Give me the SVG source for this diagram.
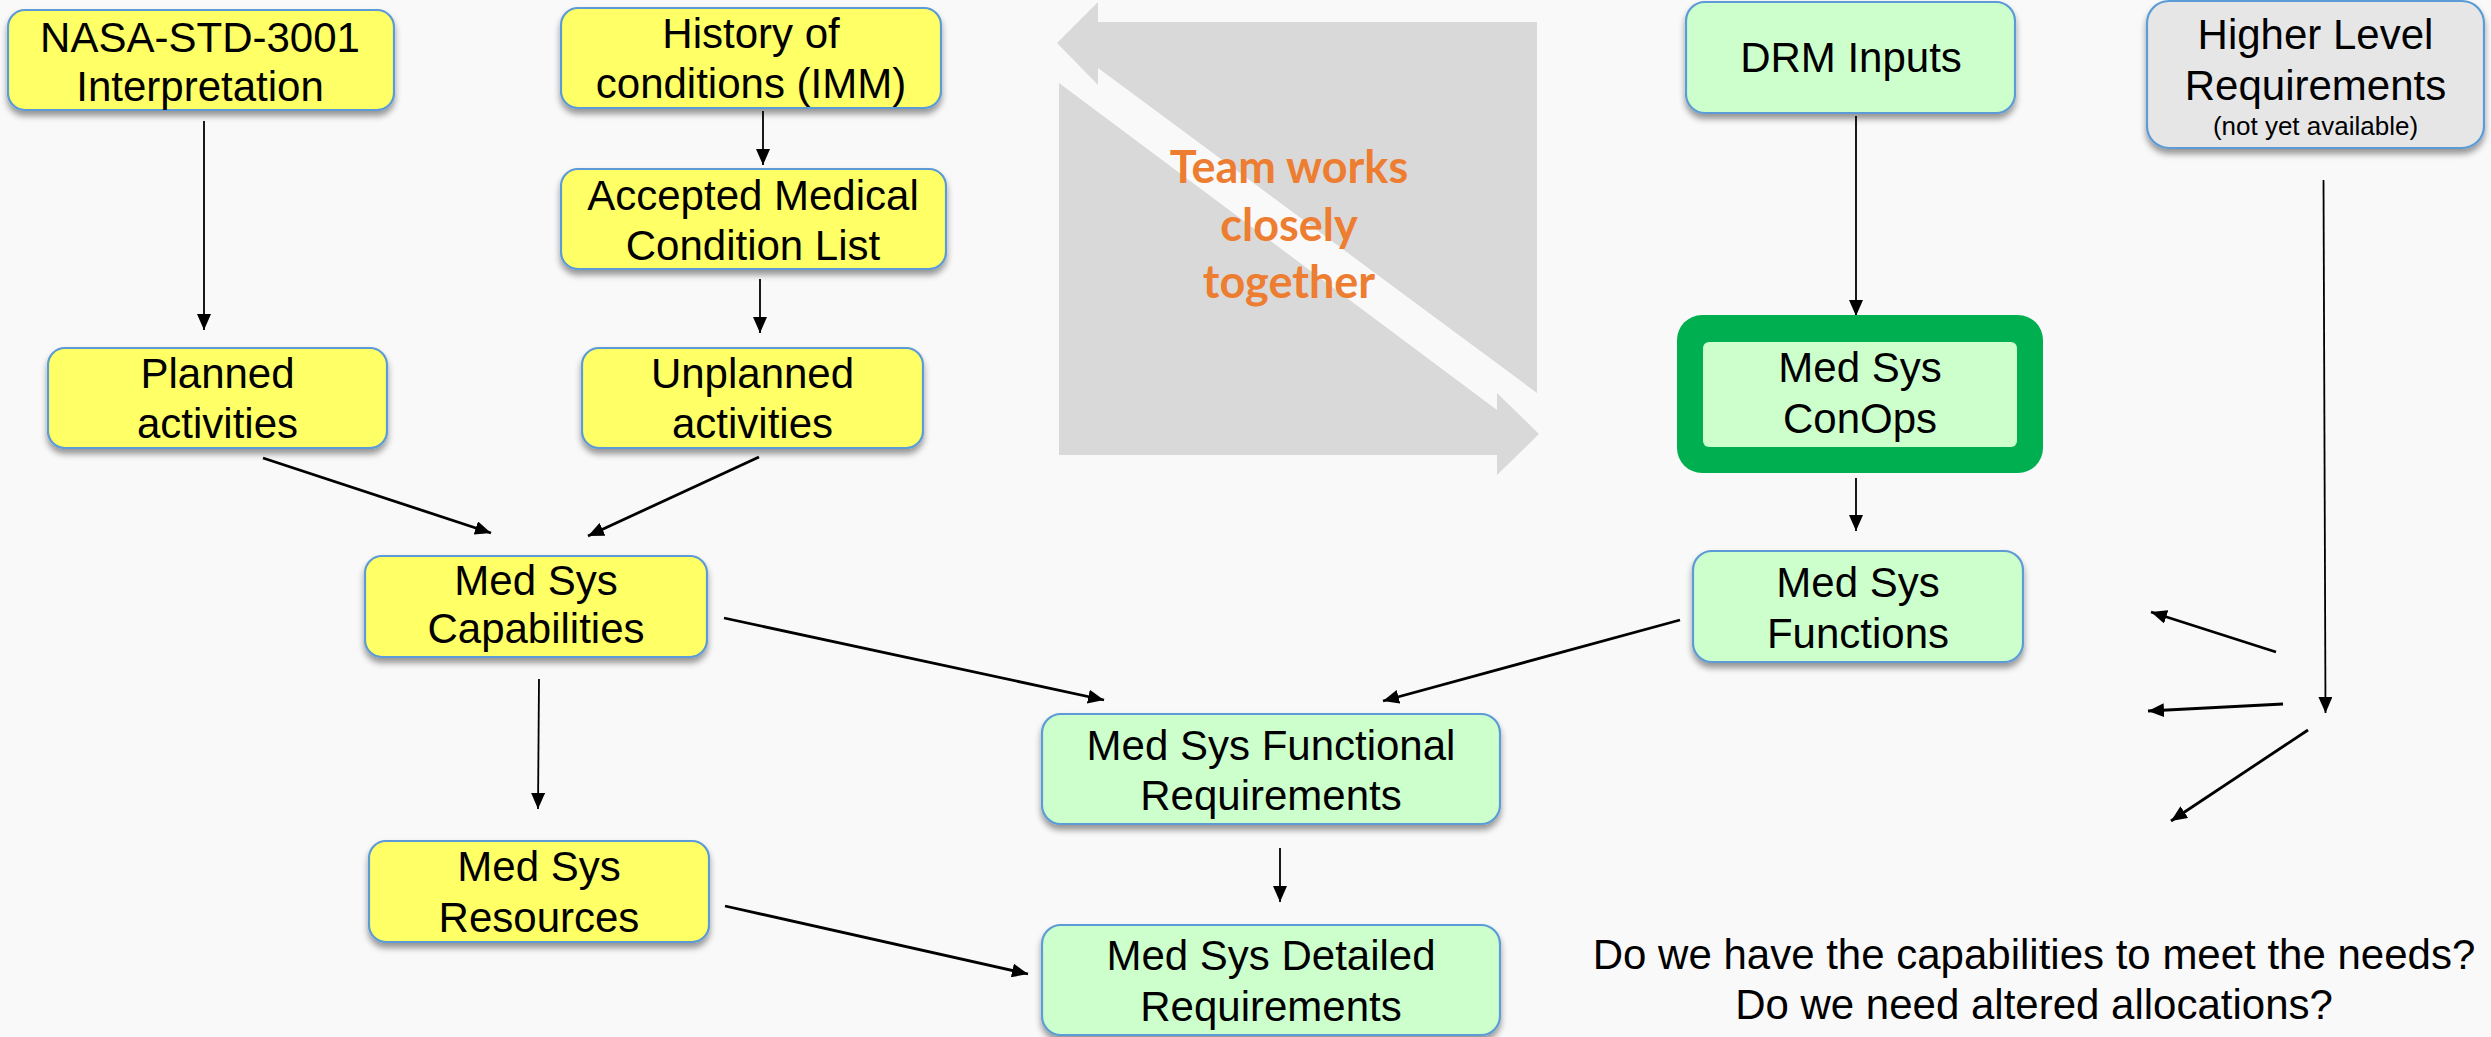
<svg xmlns="http://www.w3.org/2000/svg" width="2491" height="1037" viewBox="0 0 2491 1037">
  <defs>
    <filter id="shadow" x="-10%" y="-20%" width="120%" height="150%">
      <feDropShadow dx="0" dy="5" stdDeviation="3" flood-color="#000" flood-opacity="0.4"/>
    </filter>
    <marker id="ah" viewBox="0 0 16 14" refX="16" refY="7" markerWidth="16" markerHeight="14" markerUnits="userSpaceOnUse" orient="auto">
      <path d="M0,0 L16,7 L0,14 z" fill="#000"/>
    </marker>
    <style>
      .box { stroke: #5B9BD5; stroke-width: 2.2; filter: url(#shadow); }
      .yellow { fill: #FFFF66; }
      .green { fill: #CCFFCC; }
      .grey { fill: #E6E6E6; }
      .lbl { font-family: "Liberation Sans", Arial, sans-serif; font-size: 42px; fill: #000; text-anchor: middle; }
      .small { font-size: 26px; }
      .link { stroke: #000; fill: none; marker-end: url(#ah); }
      .thin { stroke-width: 1.8; }
      .thick { stroke-width: 2.8; }
      .team { font-family: Lato, "Open Sans", sans-serif; font-weight: 700; font-size: 45px; fill: #ED7D31; text-anchor: middle; }
    </style>
  </defs>

  <rect x="0" y="0" width="2491" height="1037" fill="#F9F9F9"/>

  <!-- two-way collaboration arrows -->
  <g id="collab">
    <polygon points="1098,2 1057,43 1098,85 1098,68 1537,393 1537,22 1098,22" fill="#D9D9D9"/>
    <polygon points="1059,83 1497,410 1497,393 1539,434 1497,475 1497,455 1059,455" fill="#D9D9D9"/>
    <text class="team" x="1289" y="183">Team works</text>
    <text class="team" x="1289" y="241">closely</text>
    <text class="team" x="1289" y="298">together</text>
  </g>

  <!-- connectors -->
  <g id="connectors">
    <line class="link thin" x1="204" y1="121" x2="204" y2="330"/>
    <line class="link thin" x1="763" y1="111" x2="763" y2="165"/>
    <line class="link thin" x1="760" y1="279" x2="760" y2="333"/>
    <line class="link thick" x1="263" y1="458" x2="491" y2="533"/>
    <line class="link thick" x1="759" y1="457" x2="588" y2="536"/>
    <line class="link thick" x1="724" y1="618" x2="1104" y2="700"/>
    <line class="link thin" x1="539" y1="679" x2="538" y2="809"/>
    <line class="link thick" x1="725" y1="906" x2="1028" y2="974"/>
    <line class="link thin" x1="1280" y1="848" x2="1280" y2="902"/>
    <line class="link thin" x1="1856" y1="116" x2="1856" y2="316"/>
    <line class="link thin" x1="1856" y1="478" x2="1856" y2="531"/>
    <line class="link thick" x1="1680" y1="620" x2="1383" y2="701"/>
    <line class="link thin" x1="2323.5" y1="180" x2="2325.5" y2="713"/>
    <line class="link thick" x1="2276" y1="652" x2="2151" y2="612"/>
    <line class="link thick" x1="2283" y1="704" x2="2148" y2="711"/>
    <line class="link thick" x1="2308" y1="730" x2="2171" y2="821"/>
  </g>

  <g id="nasa-std">
    <rect class="box yellow" x="8" y="10" width="386" height="100" rx="17"/>
    <text class="lbl" x="200" y="52">NASA-STD-3001</text>
    <text class="lbl" x="200" y="101">Interpretation</text>
  </g>

  <g id="history">
    <rect class="box yellow" x="561" y="8" width="380" height="100" rx="17"/>
    <text class="lbl" x="751" y="48">History of</text>
    <text class="lbl" x="751" y="98">conditions (IMM)</text>
  </g>

  <g id="accepted-list">
    <rect class="box yellow" x="561" y="169" width="385" height="100" rx="17"/>
    <text class="lbl" x="753" y="210">Accepted Medical</text>
    <text class="lbl" x="753" y="260">Condition List</text>
  </g>

  <g id="planned">
    <rect class="box yellow" x="48" y="348" width="339" height="100" rx="17"/>
    <text class="lbl" x="217.5" y="388">Planned</text>
    <text class="lbl" x="217.5" y="438">activities</text>
  </g>

  <g id="unplanned">
    <rect class="box yellow" x="582" y="348" width="341" height="100" rx="17"/>
    <text class="lbl" x="752.5" y="388">Unplanned</text>
    <text class="lbl" x="752.5" y="438">activities</text>
  </g>

  <g id="capabilities">
    <rect class="box yellow" x="365" y="556" width="342" height="101" rx="17"/>
    <text class="lbl" x="536" y="595">Med Sys</text>
    <text class="lbl" x="536" y="643">Capabilities</text>
  </g>

  <g id="resources">
    <rect class="box yellow" x="369" y="841" width="340" height="101" rx="17"/>
    <text class="lbl" x="539" y="881">Med Sys</text>
    <text class="lbl" x="539" y="932">Resources</text>
  </g>

  <g id="functional-req">
    <rect class="box green" x="1042" y="714" width="458" height="110" rx="19"/>
    <text class="lbl" x="1271" y="760">Med Sys Functional</text>
    <text class="lbl" x="1271" y="810">Requirements</text>
  </g>

  <g id="detailed-req">
    <rect class="box green" x="1042" y="925" width="458" height="110" rx="19"/>
    <text class="lbl" x="1271" y="970">Med Sys Detailed</text>
    <text class="lbl" x="1271" y="1021">Requirements</text>
  </g>

  <g id="drm-inputs">
    <rect class="box green" x="1686" y="2" width="329" height="111" rx="19"/>
    <text class="lbl" x="1851" y="72">DRM Inputs</text>
  </g>

  <g id="higher-level">
    <rect class="box grey" x="2147" y="1" width="337" height="147" rx="22"/>
    <text class="lbl" x="2315.5" y="49">Higher Level</text>
    <text class="lbl" x="2315.5" y="100">Requirements</text>
    <text class="lbl small" x="2315.5" y="135">(not yet available)</text>
  </g>

  <g id="conops">
    <rect x="1677" y="315" width="366" height="158" rx="25" fill="#00B050"/>
    <rect x="1703" y="342" width="314" height="105" rx="6" fill="#CCFFCC"/>
    <text class="lbl" x="1860" y="382">Med Sys</text>
    <text class="lbl" x="1860" y="433">ConOps</text>
  </g>

  <g id="functions">
    <rect class="box green" x="1693" y="551" width="330" height="111" rx="19"/>
    <text class="lbl" x="1858" y="597">Med Sys</text>
    <text class="lbl" x="1858" y="648">Functions</text>
  </g>

  <g id="questions">
    <text class="lbl" x="2034" y="969">Do we have the capabilities to meet the needs?</text>
    <text class="lbl" x="2034" y="1019">Do we need altered allocations?</text>
  </g>
</svg>
